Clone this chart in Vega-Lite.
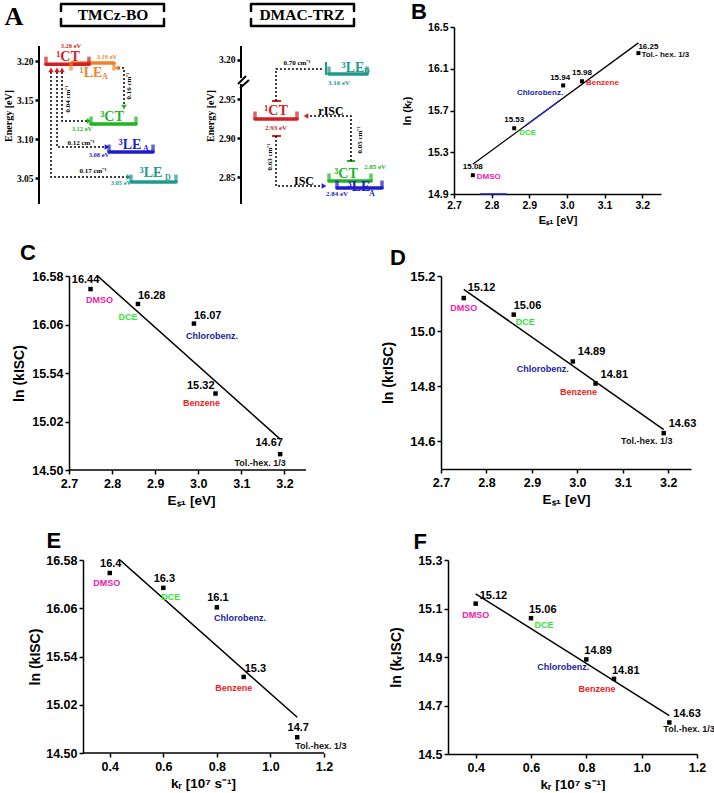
{
"$schema": "https://vega.github.io/schema/vega-lite/v6.json",
"background": "white",
"padding": {"left": 3, "top": 0, "right": 0, "bottom": 0},
"config": {
 "view": {"stroke": null},
 "axis": {"grid": false, "domainColor": "black", "tickColor": "black", "labelColor": "black", "titleColor": "black", "labelFontWeight": "bold", "titleFontWeight": "bold", "labelFont": "Liberation Sans", "titleFont": "Liberation Sans", "domainWidth": 1.5, "tickWidth": 1.5, "labelFlush": false, "labelOverlap": false},
 "text": {"font": "Liberation Sans", "fontWeight": "bold"},
 "tick": {"color": "black"}
},
"datasets": {
 "pts": [
  {"s": "DMSO", "E": 2.75, "kr": 0.4, "lnkr": 15.08, "lnkisc": 16.44, "lnkrisc": 15.12},
  {"s": "DCE", "E": 2.86, "kr": 0.6, "lnkr": 15.53, "lnkisc": 16.28, "lnkrisc": 15.06},
  {"s": "Chlorobenz.", "E": 2.99, "kr": 0.8, "lnkr": 15.94, "lnkisc": 16.07, "lnkrisc": 14.89},
  {"s": "Benzene", "E": 3.04, "kr": 0.9, "lnkr": 15.98, "lnkisc": 15.32, "lnkrisc": 14.81},
  {"s": "Tol.-hex. 1/3", "E": 3.19, "kr": 1.1, "lnkr": 16.25, "lnkisc": 14.67, "lnkrisc": 14.63}
 ],
 "minE": [{"E": 2.75}, {"E": 2.85}, {"E": 2.95}, {"E": 3.05}, {"E": 3.15}, {"E": 3.25}],
 "minK": [{"kr": 0.3}, {"kr": 0.5}, {"kr": 0.7}, {"kr": 0.9}, {"kr": 1.1}],
 "minB": [{"lnkr": 15.1}, {"lnkr": 15.5}, {"lnkr": 15.9}, {"lnkr": 16.3}],
 "minISC": [{"lnkisc": 14.76}, {"lnkisc": 15.28}, {"lnkisc": 15.8}, {"lnkisc": 16.32}],
 "minD": [{"lnkrisc": 14.7}, {"lnkrisc": 14.9}, {"lnkrisc": 15.1}],
 "minF": [{"lnkrisc": 14.6}, {"lnkrisc": 14.8}, {"lnkrisc": 15.0}, {"lnkrisc": 15.2}],
 "AL_rules": [{"c": "k", "x": 0, "x2": 0, "e": 3.0167, "e2": 3.2192}],
 "AL_box": [
  {"p": "t", "o": 1, "x": 2.2, "e": 3.2641}, {"p": "t", "o": 2, "x": 2.2, "e": 3.2731}, {"p": "t", "o": 3, "x": 12.5, "e": 3.2731}, {"p": "t", "o": 4, "x": 12.5, "e": 3.2641},
  {"p": "b", "o": 1, "x": 2.2, "e": 3.2538}, {"p": "b", "o": 2, "x": 2.2, "e": 3.2449}, {"p": "b", "o": 3, "x": 12.5, "e": 3.2449}, {"p": "b", "o": 4, "x": 12.5, "e": 3.2538}
 ],
 "AL_title": [{"t": "TMCz-BO", "x": 7.4, "e": 3.259}],
 "AL_letter": [{"t": "A", "x": -2.5, "e": 3.2564}],
 "AL_paths": [
  {"p": "a", "o": 1, "x": 2.3, "e": 3.1859}, {"p": "a", "o": 2, "x": 2.3, "e": 3.1231}, {"p": "a", "o": 3, "x": 4.8, "e": 3.1231},
  {"p": "b", "o": 1, "x": 1.8, "e": 3.1859}, {"p": "b", "o": 2, "x": 1.8, "e": 3.0897}, {"p": "b", "o": 3, "x": 6.6, "e": 3.0897},
  {"p": "c", "o": 1, "x": 1.2, "e": 3.1859}, {"p": "c", "o": 2, "x": 1.2, "e": 3.0513}, {"p": "c", "o": 3, "x": 8.8, "e": 3.0513},
  {"p": "d", "o": 1, "x": 7.9, "e": 3.191}, {"p": "d", "o": 2, "x": 8.5, "e": 3.191}, {"p": "d", "o": 3, "x": 8.5, "e": 3.1436}
 ],
 "AL_levels": [
  {"c": "1LEA", "x1": 3.2, "x2": 7.5, "e": 3.1974},
  {"c": "1CT", "x1": 0.7, "x2": 5.0, "e": 3.196},
  {"c": "3CT", "x1": 5.2, "x2": 9.7, "e": 3.1192},
  {"c": "3LEA", "x1": 7.0, "x2": 11.4, "e": 3.0833},
  {"c": "3LED", "x1": 9.2, "x2": 13.7, "e": 3.0449}
 ],
 "AL_heads": [
  {"c": "1CT", "d": "up", "x": 1.2, "e": 3.1885}, {"c": "1CT", "d": "up", "x": 1.8, "e": 3.1885}, {"c": "1CT", "d": "up", "x": 2.3, "e": 3.1885},
  {"c": "3CT", "d": "right", "x": 5.0, "e": 3.1231},
  {"c": "3LEA", "d": "right", "x": 6.8, "e": 3.0897},
  {"c": "3LED", "d": "right", "x": 9.0, "e": 3.0513},
  {"c": "1LEA", "d": "left", "x": 7.8, "e": 3.191},
  {"c": "3CT", "d": "down", "x": 8.5, "e": 3.141}
 ],
 "AL_big": [
  {"c": "1CT", "t": "¹CT", "x": 2.9, "e": 3.2051},
  {"c": "1LEA", "t": "¹LE", "x": 5.2, "e": 3.1846},
  {"c": "3CT", "t": "³CT", "x": 7.3, "e": 3.1282},
  {"c": "3LEA", "t": "³LE", "x": 9.1, "e": 3.0923},
  {"c": "3LED", "t": "³LE", "x": 11.2, "e": 3.0564}
 ],
 "AL_sub": [
  {"c": "1LEA", "t": "A", "x": 6.6, "e": 3.1795},
  {"c": "3LEA", "t": "A", "x": 10.7, "e": 3.0872},
  {"c": "3LED", "t": "D", "x": 12.9, "e": 3.05}
 ],
 "AL_ev": [
  {"c": "1CT", "t": "3.20 eV", "x": 3.2, "e": 3.2192},
  {"c": "1LEA", "t": "3.19 eV", "x": 6.8, "e": 3.2051},
  {"c": "3CT", "t": "3.12 eV", "x": 4.3, "e": 3.1128},
  {"c": "3LEA", "t": "3.08 eV", "x": 6.0, "e": 3.0795},
  {"c": "3LED", "t": "3.05 eV", "x": 8.2, "e": 3.0436}
 ],
 "AL_lab": [{"t": "0.12 cm⁻¹", "x": 4.2, "e": 3.0949}, {"t": "0.17 cm⁻¹", "x": 5.4, "e": 3.059}],
 "AL_labrot": [{"t": "0.04 cm⁻¹", "x": 2.9, "e": 3.1513}, {"t": "0.16 cm⁻¹", "x": 9.0, "e": 3.1679}],
 "AR_rules": [
  {"c": "k", "x": 0, "x2": 0, "e": 2.8154, "e2": 2.9692},
  {"c": "k", "x": 0, "x2": 0, "e": 2.9769, "e2": 3.0179},
  {"c": "k", "x": -0.3, "x2": 0.5, "e": 2.9692, "e2": 2.9795},
  {"c": "k", "x": -0.1, "x2": 0.8, "e": 2.9641, "e2": 2.9744},
  {"c": "1CT", "x": 3.1, "x2": 4.0, "e": 2.9474, "e2": 2.9474},
  {"c": "1CT", "x": 3.1, "x2": 4.0, "e": 2.9026, "e2": 2.9026},
  {"c": "3CT", "x": 10.6, "x2": 11.4, "e": 2.8705, "e2": 2.8705},
  {"c": "3LED", "x": 8.5, "x2": 8.5, "e": 2.9974, "e2": 2.9808}
 ],
 "AR_box": [
  {"p": "t", "o": 1, "x": 1.0, "e": 3.0628}, {"p": "t", "o": 2, "x": 1.0, "e": 3.0718}, {"p": "t", "o": 3, "x": 11.3, "e": 3.0718}, {"p": "t", "o": 4, "x": 11.3, "e": 3.0628},
  {"p": "b", "o": 1, "x": 1.0, "e": 3.0526}, {"p": "b", "o": 2, "x": 1.0, "e": 3.0436}, {"p": "b", "o": 3, "x": 11.3, "e": 3.0436}, {"p": "b", "o": 4, "x": 11.3, "e": 3.0526}
 ],
 "AR_title": [{"t": "DMAC-TRZ", "x": 6.1, "e": 3.0577}],
 "AR_paths": [
  {"p": "a", "o": 1, "x": 3.5, "e": 2.9474}, {"p": "a", "o": 2, "x": 3.5, "e": 2.9885}, {"p": "a", "o": 3, "x": 8.3, "e": 2.9885},
  {"p": "b", "o": 1, "x": 6.9, "e": 2.9282}, {"p": "b", "o": 2, "x": 11.0, "e": 2.9282}, {"p": "b", "o": 3, "x": 11.0, "e": 2.8705},
  {"p": "c", "o": 1, "x": 3.5, "e": 2.9026}, {"p": "c", "o": 2, "x": 3.5, "e": 2.8385}, {"p": "c", "o": 3, "x": 8.0, "e": 2.8385}
 ],
 "AR_levels": [
  {"c": "3LED", "x1": 8.8, "x2": 12.6, "e": 2.9821},
  {"c": "1CT", "x1": 1.4, "x2": 5.6, "e": 2.9244},
  {"c": "3LEA", "x1": 9.6, "x2": 14.1, "e": 2.8359},
  {"c": "3CT", "x1": 8.8, "x2": 13.0, "e": 2.8449}
 ],
 "AR_heads": [{"c": "1CT", "d": "left", "x": 6.5, "e": 2.9282}, {"c": "3LEA", "d": "right", "x": 8.3, "e": 2.8385}],
 "AR_big": [
  {"c": "1CT", "t": "¹CT", "x": 3.5, "e": 2.9346},
  {"c": "3LED", "t": "³LE", "x": 11.2, "e": 2.9897},
  {"c": "3CT", "t": "³CT", "x": 10.5, "e": 2.8538},
  {"c": "3LEA", "t": "³LE", "x": 11.8, "e": 2.8372}
 ],
 "AR_sub": [{"c": "3LED", "t": "D", "x": 12.6, "e": 2.9846}, {"c": "3LEA", "t": "A", "x": 13.1, "e": 2.8282}],
 "AR_ev": [
  {"c": "1CT", "t": "2.93 eV", "x": 3.5, "e": 2.9128},
  {"c": "3LED", "t": "3.16 eV", "x": 9.8, "e": 2.9705},
  {"c": "3CT", "t": "2.85 eV", "x": 13.4, "e": 2.8628},
  {"c": "3LEA", "t": "2.84 eV", "x": 9.6, "e": 2.8282}
 ],
 "AR_lab": [{"t": "0.70 cm⁻¹", "x": 5.6, "e": 2.9962}],
 "AR_labrot": [{"t": "0.05 cm⁻¹", "x": 11.9, "e": 2.8974}, {"t": "0.63 cm⁻¹", "x": 2.9, "e": 2.8756}],
 "AR_isc": [{"t": "rISC", "x": 9.0, "e": 2.9346}, {"t": "ISC", "x": 6.3, "e": 2.8449}]
},
"spacing": 23,
"vconcat": [
 {"spacing": 15, "vconcat": [
 {"spacing": 14, "hconcat": [
 {"spacing": 20, "hconcat": [
  {"width": 146, "height": 177,
   "encoding": {
    "x": {"field": "x", "type": "quantitative", "scale": {"domain": [0, 14.6], "nice": false, "zero": false}, "axis": null},
    "y": {"field": "e", "type": "quantitative", "scale": {"domain": [3.0167, 3.2436], "nice": false, "zero": false}, "axis": {"values": [3.05, 3.1, 3.15, 3.2], "format": ".2f", "title": "Energy [eV]", "domain": false, "labelFont": "Liberation Serif", "titleFont": "Liberation Serif", "labelFontSize": 9.5, "titleFontSize": 10, "tickSize": 4, "tickWidth": 2.5, "labelPadding": 2, "titlePadding": 3}}
   },
   "layer": [
    {"data": {"name": "AL_rules"}, "mark": {"type": "rule", "strokeWidth": 2}, "encoding": {"x2": {"field": "x2"}, "y2": {"field": "e2"}, "color": {"field": "c", "type": "nominal", "scale": {"domain": ["1CT", "1LEA", "3CT", "3LEA", "3LED", "k", "DMSO", "DCE", "Chlorobenz.", "Benzene", "Tol.-hex. 1/3"], "range": ["#d21f1f", "#f0822e", "#1fb41f", "#1e1ec8", "#1f9a8a", "#000000", "#f020a8", "#33e633", "#1c1c9c", "#ee1c24", "#111111"]}, "legend": null}}},
    {"data": {"name": "AL_box"}, "mark": {"type": "line", "strokeWidth": 2.5, "color": "black", "strokeJoin": "round", "strokeCap": "round"}, "encoding": {"detail": {"field": "p"}, "order": {"field": "o", "type": "quantitative"}}},
    {"data": {"name": "AL_title"}, "mark": {"type": "text", "font": "Liberation Serif", "fontSize": 15.5, "color": "black"}, "encoding": {"text": {"field": "t"}}},
    {"data": {"name": "AL_letter"}, "mark": {"type": "text", "font": "Liberation Serif", "fontSize": 26, "color": "black"}, "encoding": {"text": {"field": "t"}}},
    {"data": {"name": "AL_paths"}, "mark": {"type": "line", "strokeWidth": 1.5, "color": "black", "strokeDash": [2, 2]}, "encoding": {"detail": {"field": "p"}, "order": {"field": "o", "type": "quantitative"}}},
    {"data": {"name": "AL_levels"}, "mark": {"type": "rule", "strokeWidth": 3.5, "strokeCap": "round"}, "encoding": {"x": {"field": "x1", "type": "quantitative", "axis": null}, "x2": {"field": "x2"}, "color": {"field": "c", "type": "nominal", "legend": null}}},
    {"data": {"name": "AL_levels"}, "transform": [{"filter": "datum.c != '1LEA'"}], "mark": {"type": "tick", "orient": "vertical", "size": 8, "thickness": 3.5, "yOffset": -3.5}, "encoding": {"x": {"field": "x1", "type": "quantitative", "axis": null}, "color": {"field": "c", "type": "nominal", "legend": null}}},
    {"data": {"name": "AL_levels"}, "transform": [{"filter": "datum.c != '1LEA'"}], "mark": {"type": "tick", "orient": "vertical", "size": 8, "thickness": 3.5, "yOffset": -3.5}, "encoding": {"x": {"field": "x2", "type": "quantitative", "axis": null}, "color": {"field": "c", "type": "nominal", "legend": null}}},
    {"data": {"name": "AL_levels"}, "transform": [{"filter": "datum.c == '1LEA'"}], "mark": {"type": "tick", "orient": "vertical", "size": 8, "thickness": 3.5, "yOffset": 3.5}, "encoding": {"x": {"field": "x1", "type": "quantitative", "axis": null}, "color": {"field": "c", "type": "nominal", "legend": null}}},
    {"data": {"name": "AL_levels"}, "transform": [{"filter": "datum.c == '1LEA'"}], "mark": {"type": "tick", "orient": "vertical", "size": 8, "thickness": 3.5, "yOffset": 3.5}, "encoding": {"x": {"field": "x2", "type": "quantitative", "axis": null}, "color": {"field": "c", "type": "nominal", "legend": null}}},
    {"data": {"name": "AL_heads"}, "mark": {"type": "point", "filled": true, "size": 30, "opacity": 1}, "encoding": {"shape": {"field": "d", "type": "nominal", "scale": {"domain": ["up", "down", "left", "right"], "range": ["triangle-up", "triangle-down", "triangle-left", "triangle-right"]}, "legend": null}, "color": {"field": "c", "type": "nominal", "legend": null}}},
    {"data": {"name": "AL_big"}, "mark": {"type": "text", "font": "Liberation Serif", "fontSize": 14}, "encoding": {"text": {"field": "t"}, "color": {"field": "c", "type": "nominal", "legend": null}}},
    {"data": {"name": "AL_sub"}, "mark": {"type": "text", "font": "Liberation Serif", "fontSize": 8}, "encoding": {"text": {"field": "t"}, "color": {"field": "c", "type": "nominal", "legend": null}}},
    {"data": {"name": "AL_ev"}, "mark": {"type": "text", "font": "Liberation Serif", "fontSize": 6.5}, "encoding": {"text": {"field": "t"}, "color": {"field": "c", "type": "nominal", "legend": null}}},
    {"data": {"name": "AL_lab"}, "mark": {"type": "text", "font": "Liberation Serif", "fontSize": 7, "color": "black"}, "encoding": {"text": {"field": "t"}}},
    {"data": {"name": "AL_labrot"}, "mark": {"type": "text", "font": "Liberation Serif", "fontSize": 7, "color": "black", "angle": 270}, "encoding": {"text": {"field": "t"}}}
   ]
  },
  {"width": 125, "height": 177,
   "encoding": {
    "x": {"field": "x", "type": "quantitative", "scale": {"domain": [0, 12.5], "nice": false, "zero": false}, "axis": null},
    "y": {"field": "e", "type": "quantitative", "scale": {"domain": [2.8154, 3.0423], "nice": false, "zero": false}, "axis": {"values": [2.85, 2.9, 2.95, 3.0], "labelExpr": "datum.value > 2.97 ? '3.20' : format(datum.value, '.2f')", "title": "Energy [eV]", "domain": false, "labelFont": "Liberation Serif", "titleFont": "Liberation Serif", "labelFontSize": 9.5, "titleFontSize": 10, "tickSize": 4, "tickWidth": 2.5, "labelPadding": 2, "titlePadding": 3}}
   },
   "layer": [
    {"data": {"name": "AR_rules"}, "mark": {"type": "rule", "strokeWidth": 2}, "encoding": {"x2": {"field": "x2"}, "y2": {"field": "e2"}, "color": {"field": "c", "type": "nominal", "scale": {"domain": ["1CT", "1LEA", "3CT", "3LEA", "3LED", "k", "DMSO", "DCE", "Chlorobenz.", "Benzene", "Tol.-hex. 1/3"], "range": ["#d21f1f", "#f0822e", "#1fb41f", "#1e1ec8", "#1f9a8a", "#000000", "#f020a8", "#33e633", "#1c1c9c", "#ee1c24", "#111111"]}, "legend": null}}},
    {"data": {"name": "AR_box"}, "mark": {"type": "line", "strokeWidth": 2.5, "color": "black", "strokeJoin": "round", "strokeCap": "round"}, "encoding": {"detail": {"field": "p"}, "order": {"field": "o", "type": "quantitative"}}},
    {"data": {"name": "AR_title"}, "mark": {"type": "text", "font": "Liberation Serif", "fontSize": 15.5, "color": "black"}, "encoding": {"text": {"field": "t"}}},
    {"data": {"name": "AR_paths"}, "mark": {"type": "line", "strokeWidth": 1.5, "color": "black", "strokeDash": [2, 2]}, "encoding": {"detail": {"field": "p"}, "order": {"field": "o", "type": "quantitative"}}},
    {"data": {"name": "AR_levels"}, "mark": {"type": "rule", "strokeWidth": 3.5, "strokeCap": "round"}, "encoding": {"x": {"field": "x1", "type": "quantitative", "axis": null}, "x2": {"field": "x2"}, "color": {"field": "c", "type": "nominal", "legend": null}}},
    {"data": {"name": "AR_levels"}, "mark": {"type": "tick", "orient": "vertical", "size": 8, "thickness": 3.5, "yOffset": -3.5}, "encoding": {"x": {"field": "x1", "type": "quantitative", "axis": null}, "color": {"field": "c", "type": "nominal", "legend": null}}},
    {"data": {"name": "AR_levels"}, "mark": {"type": "tick", "orient": "vertical", "size": 8, "thickness": 3.5, "yOffset": -3.5}, "encoding": {"x": {"field": "x2", "type": "quantitative", "axis": null}, "color": {"field": "c", "type": "nominal", "legend": null}}},
    {"data": {"name": "AR_heads"}, "mark": {"type": "point", "filled": true, "size": 30, "opacity": 1}, "encoding": {"shape": {"field": "d", "type": "nominal", "scale": {"domain": ["up", "down", "left", "right"], "range": ["triangle-up", "triangle-down", "triangle-left", "triangle-right"]}, "legend": null}, "color": {"field": "c", "type": "nominal", "legend": null}}},
    {"data": {"name": "AR_big"}, "mark": {"type": "text", "font": "Liberation Serif", "fontSize": 14}, "encoding": {"text": {"field": "t"}, "color": {"field": "c", "type": "nominal", "legend": null}}},
    {"data": {"name": "AR_sub"}, "mark": {"type": "text", "font": "Liberation Serif", "fontSize": 8}, "encoding": {"text": {"field": "t"}, "color": {"field": "c", "type": "nominal", "legend": null}}},
    {"data": {"name": "AR_ev"}, "mark": {"type": "text", "font": "Liberation Serif", "fontSize": 7}, "encoding": {"text": {"field": "t"}, "color": {"field": "c", "type": "nominal", "legend": null}}},
    {"data": {"name": "AR_lab"}, "mark": {"type": "text", "font": "Liberation Serif", "fontSize": 7, "color": "black"}, "encoding": {"text": {"field": "t"}}},
    {"data": {"name": "AR_labrot"}, "mark": {"type": "text", "font": "Liberation Serif", "fontSize": 7, "color": "black", "angle": 270}, "encoding": {"text": {"field": "t"}}},
    {"data": {"name": "AR_isc"}, "mark": {"type": "text", "font": "Liberation Serif", "fontSize": 12, "color": "black"}, "encoding": {"text": {"field": "t"}}}
   ]
  }
 ]},
  {"width": 207, "height": 167,
   "data": {"name": "pts"},
   "encoding": {
    "x": {"field": "E", "type": "quantitative", "scale": {"domain": [2.7, 3.25], "nice": false, "zero": false}, "axis": {"values": [2.7, 2.8, 2.9, 3.0, 3.1, 3.2], "format": ".1f", "title": "Eₛ₁ [eV]", "labelFontSize": 10.5, "titleFontSize": 11, "tickSize": 4, "labelPadding": 2, "titlePadding": 4}},
    "y": {"field": "lnkr", "type": "quantitative", "scale": {"domain": [14.9, 16.5], "nice": false, "zero": false}, "axis": {"values": [14.9, 15.3, 15.7, 16.1, 16.5], "format": ".1f", "title": "ln (kᵣ)", "labelFontSize": 10.5, "titleFontSize": 11, "tickSize": 4, "labelPadding": 2, "titlePadding": 15}}
   },
   "layer": [
    {"data": {"name": "minE"}, "mark": {"type": "tick", "orient": "vertical", "size": 2.5, "thickness": 1.2, "yOffset": 1.25}, "encoding": {"y": {"datum": 14.9}}},
    {"data": {"name": "minB"}, "mark": {"type": "tick", "orient": "horizontal", "size": 2.5, "thickness": 1.2, "xOffset": -1.25}, "encoding": {"x": {"datum": 2.7}}},
    {"mark": {"type": "line", "color": "black", "strokeWidth": 1.3}, "transform": [{"regression": "lnkr", "on": "E", "extent": [2.75, 3.19]}]},
    {"mark": {"type": "line", "color": "#2424c8", "strokeWidth": 1.3}, "transform": [{"regression": "lnkr", "on": "E", "extent": [2.89, 2.98]}]},
    {"data": {"values": [{"a": 2.77, "b": 2.84, "y": 14.9}]}, "mark": {"type": "rule", "color": "#2424c8", "strokeWidth": 1.5}, "encoding": {"x": {"field": "a", "type": "quantitative"}, "x2": {"field": "b"}, "y": {"field": "y", "type": "quantitative"}}},
    {"mark": {"type": "square", "color": "black", "size": 16, "opacity": 1}},
    {"transform": [{"filter": {"field": "s", "oneOf": ["DMSO", "DCE", "Benzene"]}}], "mark": {"type": "text", "fontSize": 8, "align": "center", "dy": -8, "color": "black"}, "encoding": {"text": {"field": "lnkr", "format": ".2f"}}},
    {"transform": [{"filter": {"field": "s", "equal": "Chlorobenz."}}], "mark": {"type": "text", "fontSize": 8, "align": "center", "dx": -3, "dy": -7, "color": "black"}, "encoding": {"text": {"field": "lnkr", "format": ".2f"}}},
    {"transform": [{"filter": {"field": "s", "equal": "Tol.-hex. 1/3"}}], "mark": {"type": "text", "fontSize": 8, "align": "left", "dx": 0, "dy": -6, "color": "black"}, "encoding": {"text": {"field": "lnkr", "format": ".2f"}}},
    {"transform": [{"filter": {"field": "s", "oneOf": ["DMSO", "Benzene"]}}], "mark": {"type": "text", "fontSize": 8, "align": "left", "dx": 4, "dy": 2}, "encoding": {"text": {"field": "s"}, "color": {"field": "s", "type": "nominal", "legend": null}}},
    {"transform": [{"filter": {"field": "s", "equal": "DCE"}}], "mark": {"type": "text", "fontSize": 8, "align": "left", "dx": 5, "dy": 5}, "encoding": {"text": {"field": "s"}, "color": {"field": "s", "type": "nominal", "legend": null}}},
    {"transform": [{"filter": {"field": "s", "equal": "Chlorobenz."}}], "mark": {"type": "text", "fontSize": 8, "align": "right", "dx": 0, "dy": 8}, "encoding": {"text": {"field": "s"}, "color": {"field": "s", "type": "nominal", "legend": null}}},
    {"transform": [{"filter": {"field": "s", "equal": "Tol.-hex. 1/3"}}], "mark": {"type": "text", "fontSize": 8, "align": "left", "dx": 3, "dy": 2, "text": "Tol.- hex. 1/3", "color": "#111111"}},
    {"data": {"values": [{"t": "B", "E": 2.607, "lnkr": 16.644}]}, "mark": {"type": "text", "fontSize": 22, "color": "black"}, "encoding": {"text": {"field": "t"}}}
   ]
  }
 ]},
 {"spacing": 74, "hconcat": [
  {"width": 267, "height": 194,
   "data": {"name": "pts"},
   "encoding": {
    "x": {"field": "E", "type": "quantitative", "scale": {"domain": [2.6304, 3.25], "nice": false, "zero": false}, "axis": {"values": [2.7, 2.8, 2.9, 3.0, 3.1, 3.2], "format": ".1f", "title": "Eₛ₁ [eV]", "domain": false, "labelFontSize": 12.5, "titleFontSize": 13.5, "tickSize": 4, "labelPadding": 3, "titlePadding": 4, "titleX": 152}},
    "y": {"field": "lnkisc", "type": "quantitative", "scale": {"domain": [14.5, 16.58], "nice": false, "zero": false}, "axis": {"values": [14.5, 15.02, 15.54, 16.06, 16.58], "format": ".2f", "title": "ln (kISC)", "offset": -30, "labelFontSize": 12.5, "titleFontSize": 14, "tickSize": 4, "labelPadding": 2, "titlePadding": 5}}
   },
   "layer": [
    {"data": {"values": [{"a": 2.7, "b": 3.25, "y": 14.5}]}, "mark": {"type": "rule", "color": "black", "strokeWidth": 1.5}, "encoding": {"x": {"field": "a", "type": "quantitative"}, "x2": {"field": "b"}, "y": {"field": "y", "type": "quantitative"}}},
    {"data": {"name": "minE"}, "mark": {"type": "tick", "orient": "vertical", "size": 2.5, "thickness": 1.2, "yOffset": 1.25}, "encoding": {"y": {"datum": 14.5}}},
    {"data": {"name": "minISC"}, "mark": {"type": "tick", "orient": "horizontal", "size": 2.5, "thickness": 1.2, "xOffset": -1.25}, "encoding": {"x": {"datum": 2.7}}},
    {"mark": {"type": "line", "color": "black", "strokeWidth": 1.5, "clip": true}, "transform": [{"regression": "lnkisc", "on": "E", "extent": [2.75, 3.19]}]},
    {"mark": {"type": "square", "color": "black", "size": 20, "opacity": 1}},
    {"transform": [{"filter": {"field": "s", "equal": "DMSO"}}], "mark": {"type": "text", "fontSize": 11, "align": "center", "dx": -5, "dy": -9, "color": "black"}, "encoding": {"text": {"field": "lnkisc", "format": ".2f"}}},
    {"transform": [{"filter": {"field": "s", "oneOf": ["DCE", "Chlorobenz."]}}], "mark": {"type": "text", "fontSize": 11, "align": "left", "dx": 0, "dy": -8, "color": "black"}, "encoding": {"text": {"field": "lnkisc", "format": ".2f"}}},
    {"transform": [{"filter": {"field": "s", "equal": "Benzene"}}], "mark": {"type": "text", "fontSize": 11, "align": "right", "dx": -1, "dy": -8, "color": "black"}, "encoding": {"text": {"field": "lnkisc", "format": ".2f"}}},
    {"transform": [{"filter": {"field": "s", "equal": "Tol.-hex. 1/3"}}], "mark": {"type": "text", "fontSize": 11, "align": "center", "dx": -11, "dy": -11, "color": "black"}, "encoding": {"text": {"field": "lnkisc", "format": ".2f"}}},
    {"transform": [{"filter": {"field": "s", "equal": "DMSO"}}], "mark": {"type": "text", "fontSize": 9, "align": "center", "dx": 9, "dy": 11}, "encoding": {"text": {"field": "s"}, "color": {"field": "s", "type": "nominal", "legend": null}}},
    {"transform": [{"filter": {"field": "s", "equal": "DCE"}}], "mark": {"type": "text", "fontSize": 9, "align": "center", "dx": -10, "dy": 13}, "encoding": {"text": {"field": "s"}, "color": {"field": "s", "type": "nominal", "legend": null}}},
    {"transform": [{"filter": {"field": "s", "equal": "Chlorobenz."}}], "mark": {"type": "text", "fontSize": 9, "align": "left", "dx": -8, "dy": 12}, "encoding": {"text": {"field": "s"}, "color": {"field": "s", "type": "nominal", "legend": null}}},
    {"transform": [{"filter": {"field": "s", "equal": "Benzene"}}], "mark": {"type": "text", "fontSize": 9, "align": "center", "dx": -14, "dy": 9}, "encoding": {"text": {"field": "s"}, "color": {"field": "s", "type": "nominal", "legend": null}}},
    {"transform": [{"filter": {"field": "s", "equal": "Tol.-hex. 1/3"}}], "mark": {"type": "text", "fontSize": 9, "align": "center", "dx": -20, "dy": 9}, "encoding": {"text": {"field": "s"}, "color": {"field": "s", "type": "nominal", "legend": null}}},
    {"data": {"values": [{"t": "C", "E": 2.605, "lnkisc": 16.827}]}, "mark": {"type": "text", "fontSize": 22, "color": "black"}, "encoding": {"text": {"field": "t"}}}
   ]
  },
  {"width": 250, "height": 193,
   "data": {"name": "pts"},
   "encoding": {
    "x": {"field": "E", "type": "quantitative", "scale": {"domain": [2.7, 3.25], "nice": false, "zero": false}, "axis": {"values": [2.7, 2.8, 2.9, 3.0, 3.1, 3.2], "format": ".1f", "title": "Eₛ₁ [eV]", "labelFontSize": 12.5, "titleFontSize": 13.5, "tickSize": 4, "labelPadding": 3, "titlePadding": 4}},
    "y": {"field": "lnkrisc", "type": "quantitative", "scale": {"domain": [14.5, 15.2], "nice": false, "zero": false}, "axis": {"values": [14.6, 14.8, 15.0, 15.2], "format": ".1f", "title": "ln (krISC)", "labelFontSize": 13, "titleFontSize": 14, "tickSize": 4, "labelPadding": 2, "titlePadding": 14}}
   },
   "layer": [
    {"data": {"name": "minE"}, "mark": {"type": "tick", "orient": "vertical", "size": 2.5, "thickness": 1.2, "yOffset": 1.25}, "encoding": {"y": {"datum": 14.5}}},
    {"data": {"name": "minD"}, "mark": {"type": "tick", "orient": "horizontal", "size": 2.5, "thickness": 1.2, "xOffset": -1.25}, "encoding": {"x": {"datum": 2.7}}},
    {"mark": {"type": "line", "color": "black", "strokeWidth": 1.5, "clip": true}, "transform": [{"regression": "lnkrisc", "on": "E", "extent": [2.75, 3.19]}]},
    {"mark": {"type": "square", "color": "black", "size": 20, "opacity": 1}},
    {"transform": [{"filter": {"field": "s", "equal": "DMSO"}}], "mark": {"type": "text", "fontSize": 11, "align": "left", "dx": 4, "dy": -10, "color": "black"}, "encoding": {"text": {"field": "lnkrisc", "format": ".2f"}}},
    {"transform": [{"filter": {"field": "s", "equal": "DCE"}}], "mark": {"type": "text", "fontSize": 11, "align": "left", "dx": 0, "dy": -9, "color": "black"}, "encoding": {"text": {"field": "lnkrisc", "format": ".2f"}}},
    {"transform": [{"filter": {"field": "s", "oneOf": ["Chlorobenz.", "Benzene", "Tol.-hex. 1/3"]}}], "mark": {"type": "text", "fontSize": 11, "align": "left", "dx": 5, "dy": -9, "color": "black"}, "encoding": {"text": {"field": "lnkrisc", "format": ".2f"}}},
    {"transform": [{"filter": {"field": "s", "equal": "DMSO"}}], "mark": {"type": "text", "fontSize": 9, "align": "center", "dx": 0, "dy": 10}, "encoding": {"text": {"field": "s"}, "color": {"field": "s", "type": "nominal", "legend": null}}},
    {"transform": [{"filter": {"field": "s", "equal": "DCE"}}], "mark": {"type": "text", "fontSize": 9, "align": "left", "dx": 2, "dy": 7}, "encoding": {"text": {"field": "s"}, "color": {"field": "s", "type": "nominal", "legend": null}}},
    {"transform": [{"filter": {"field": "s", "equal": "Chlorobenz."}}], "mark": {"type": "text", "fontSize": 9, "align": "right", "dx": -4, "dy": 8}, "encoding": {"text": {"field": "s"}, "color": {"field": "s", "type": "nominal", "legend": null}}},
    {"transform": [{"filter": {"field": "s", "oneOf": ["Benzene", "Tol.-hex. 1/3"]}}], "mark": {"type": "text", "fontSize": 9, "align": "center", "dx": -17, "dy": 8}, "encoding": {"text": {"field": "s"}, "color": {"field": "s", "type": "nominal", "legend": null}}},
    {"data": {"values": [{"t": "D", "E": 2.605, "lnkrisc": 15.265}]}, "mark": {"type": "text", "fontSize": 22, "color": "black"}, "encoding": {"text": {"field": "t"}}}
   ]
  }
 ]}
 ]},
 {"spacing": 42, "hconcat": [
  {"width": 285, "height": 193,
   "data": {"name": "pts"},
   "encoding": {
    "x": {"field": "kr", "type": "quantitative", "scale": {"domain": [0.1357, 1.2], "nice": false, "zero": false}, "axis": {"values": [0.4, 0.6, 0.8, 1.0, 1.2], "format": ".1f", "title": "kᵣ [10⁷ s⁻¹]", "domain": false, "labelFontSize": 12.5, "titleFontSize": 13.5, "tickSize": 4, "labelPadding": 3, "titlePadding": 4, "titleX": 164}},
    "y": {"field": "lnkisc", "type": "quantitative", "scale": {"domain": [14.5, 16.58], "nice": false, "zero": false}, "axis": {"values": [14.5, 15.02, 15.54, 16.06, 16.58], "format": ".2f", "title": "ln (kISC)", "offset": -44, "labelFontSize": 12.5, "titleFontSize": 14, "tickSize": 4, "labelPadding": 2, "titlePadding": 3}}
   },
   "layer": [
    {"data": {"values": [{"a": 0.3, "b": 1.2, "y": 14.5}]}, "mark": {"type": "rule", "color": "black", "strokeWidth": 1.5}, "encoding": {"x": {"field": "a", "type": "quantitative"}, "x2": {"field": "b"}, "y": {"field": "y", "type": "quantitative"}}},
    {"data": {"name": "minK"}, "mark": {"type": "tick", "orient": "vertical", "size": 2.5, "thickness": 1.2, "yOffset": 1.25}, "encoding": {"y": {"datum": 14.5}}},
    {"data": {"name": "minISC"}, "mark": {"type": "tick", "orient": "horizontal", "size": 2.5, "thickness": 1.2, "xOffset": -1.25}, "encoding": {"x": {"datum": 0.3}}},
    {"mark": {"type": "line", "color": "black", "strokeWidth": 1.5, "clip": true}, "transform": [{"regression": "lnkisc", "on": "kr", "extent": [0.4, 1.1]}]},
    {"mark": {"type": "square", "color": "black", "size": 20, "opacity": 1}},
    {"transform": [{"filter": {"field": "s", "oneOf": ["DMSO", "DCE", "Chlorobenz.", "Tol.-hex. 1/3"]}}], "mark": {"type": "text", "fontSize": 11, "align": "center", "dx": 1, "dy": -9, "color": "black"}, "encoding": {"text": {"field": "lnkisc", "format": ".1f"}}},
    {"transform": [{"filter": {"field": "s", "equal": "Benzene"}}], "mark": {"type": "text", "fontSize": 11, "align": "left", "dx": 1, "dy": -8, "color": "black"}, "encoding": {"text": {"field": "lnkisc", "format": ".1f"}}},
    {"transform": [{"filter": {"field": "s", "equal": "DMSO"}}], "mark": {"type": "text", "fontSize": 9, "align": "center", "dx": -3, "dy": 10}, "encoding": {"text": {"field": "s"}, "color": {"field": "s", "type": "nominal", "legend": null}}},
    {"transform": [{"filter": {"field": "s", "oneOf": ["DCE", "Tol.-hex. 1/3"]}}], "mark": {"type": "text", "fontSize": 9, "align": "left", "dx": -2, "dy": 9}, "encoding": {"text": {"field": "s"}, "color": {"field": "s", "type": "nominal", "legend": null}}},
    {"transform": [{"filter": {"field": "s", "equal": "Chlorobenz."}}], "mark": {"type": "text", "fontSize": 9, "align": "left", "dx": -3, "dy": 11}, "encoding": {"text": {"field": "s"}, "color": {"field": "s", "type": "nominal", "legend": null}}},
    {"transform": [{"filter": {"field": "s", "equal": "Benzene"}}], "mark": {"type": "text", "fontSize": 9, "align": "center", "dx": -10, "dy": 11}, "encoding": {"text": {"field": "s"}, "color": {"field": "s", "type": "nominal", "legend": null}}},
    {"data": {"values": [{"t": "E", "kr": 0.191, "lnkisc": 16.78}]}, "mark": {"type": "text", "fontSize": 22, "color": "black"}, "encoding": {"text": {"field": "t"}}}
   ]
  },
  {"width": 249, "height": 194,
   "data": {"name": "pts"},
   "encoding": {
    "x": {"field": "kr", "type": "quantitative", "scale": {"domain": [0.3, 1.2], "nice": false, "zero": false}, "axis": {"values": [0.4, 0.6, 0.8, 1.0, 1.2], "format": ".1f", "title": "kᵣ [10⁷ s⁻¹]", "labelFontSize": 12.5, "titleFontSize": 13.5, "tickSize": 4, "labelPadding": 3, "titlePadding": 4}},
    "y": {"field": "lnkrisc", "type": "quantitative", "scale": {"domain": [14.5, 15.3], "nice": false, "zero": false}, "axis": {"values": [14.5, 14.7, 14.9, 15.1, 15.3], "format": ".1f", "title": "ln (kᵣISC)", "labelFontSize": 12.5, "titleFontSize": 14, "tickSize": 4, "labelPadding": 2, "titlePadding": 14}}
   },
   "layer": [
    {"data": {"name": "minK"}, "mark": {"type": "tick", "orient": "vertical", "size": 2.5, "thickness": 1.2, "yOffset": 1.25}, "encoding": {"y": {"datum": 14.5}}},
    {"data": {"name": "minF"}, "mark": {"type": "tick", "orient": "horizontal", "size": 2.5, "thickness": 1.2, "xOffset": -1.25}, "encoding": {"x": {"datum": 0.3}}},
    {"mark": {"type": "line", "color": "black", "strokeWidth": 1.5, "clip": true}, "transform": [{"regression": "lnkrisc", "on": "kr", "extent": [0.4, 1.1]}]},
    {"mark": {"type": "square", "color": "black", "size": 20, "opacity": 1}},
    {"transform": [{"filter": {"field": "s", "oneOf": ["DMSO", "Tol.-hex. 1/3"]}}], "mark": {"type": "text", "fontSize": 11, "align": "left", "dx": 4, "dy": -8, "color": "black"}, "encoding": {"text": {"field": "lnkrisc", "format": ".2f"}}},
    {"transform": [{"filter": {"field": "s", "oneOf": ["DCE", "Chlorobenz.", "Benzene"]}}], "mark": {"type": "text", "fontSize": 11, "align": "left", "dx": -2, "dy": -8, "color": "black"}, "encoding": {"text": {"field": "lnkrisc", "format": ".2f"}}},
    {"transform": [{"filter": {"field": "s", "equal": "DMSO"}}], "mark": {"type": "text", "fontSize": 9, "align": "center", "dx": 0, "dy": 11}, "encoding": {"text": {"field": "s"}, "color": {"field": "s", "type": "nominal", "legend": null}}},
    {"transform": [{"filter": {"field": "s", "equal": "DCE"}}], "mark": {"type": "text", "fontSize": 9, "align": "center", "dx": 13, "dy": 7}, "encoding": {"text": {"field": "s"}, "color": {"field": "s", "type": "nominal", "legend": null}}},
    {"transform": [{"filter": {"field": "s", "equal": "Chlorobenz."}}], "mark": {"type": "text", "fontSize": 9, "align": "right", "dx": 3, "dy": 8}, "encoding": {"text": {"field": "s"}, "color": {"field": "s", "type": "nominal", "legend": null}}},
    {"transform": [{"filter": {"field": "s", "equal": "Benzene"}}], "mark": {"type": "text", "fontSize": 9, "align": "center", "dx": -17, "dy": 10}, "encoding": {"text": {"field": "s"}, "color": {"field": "s", "type": "nominal", "legend": null}}},
    {"transform": [{"filter": {"field": "s", "equal": "Tol.-hex. 1/3"}}], "mark": {"type": "text", "fontSize": 9, "align": "left", "dx": -6, "dy": 7}, "encoding": {"text": {"field": "s"}, "color": {"field": "s", "type": "nominal", "legend": null}}},
    {"data": {"values": [{"t": "F", "kr": 0.2, "lnkrisc": 15.375}]}, "mark": {"type": "text", "fontSize": 22, "color": "black"}, "encoding": {"text": {"field": "t"}}}
   ]
  }
 ]}
]
}
